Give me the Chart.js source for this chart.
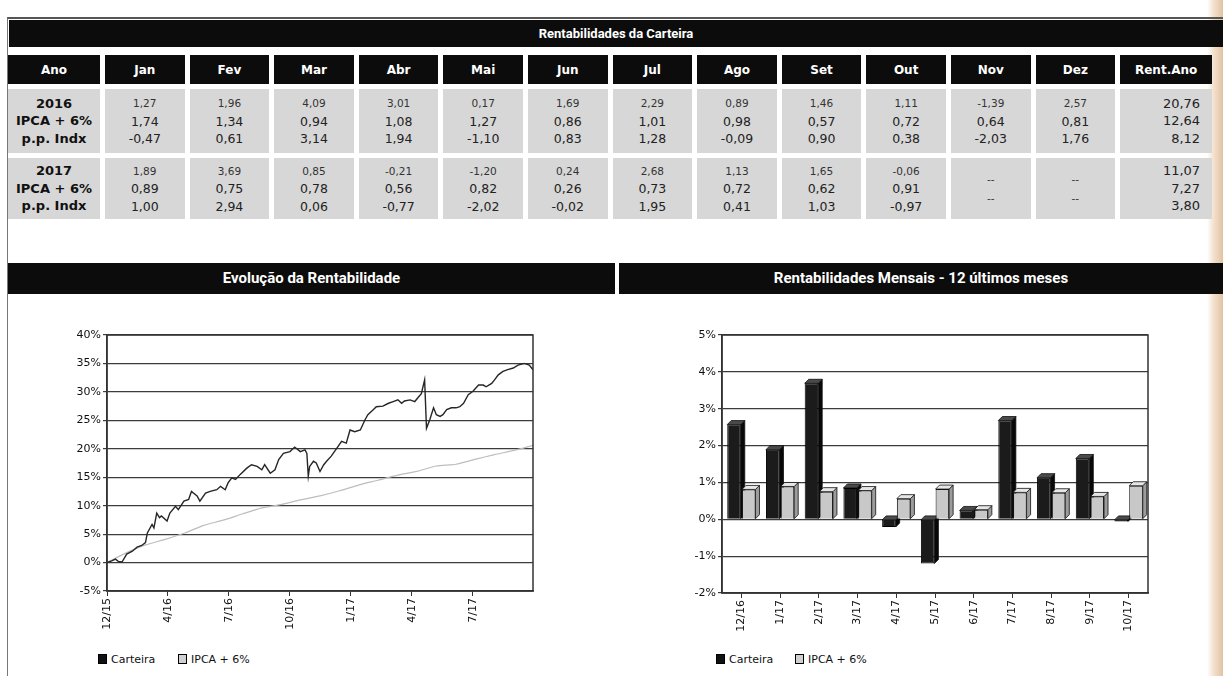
<!DOCTYPE html>
<html lang="pt-BR">
<head>
<meta charset="utf-8">
<title>Rentabilidades da Carteira</title>
<script src="https://cdn.jsdelivr.net/npm/chart.js@4.4.1/dist/chart.umd.min.js"></script>
<style>
html, body { margin: 0; padding: 0; }
body { width: 1223px; height: 676px; position: relative; overflow: hidden; background: #fff;
  font-family: "DejaVu Sans", Verdana, sans-serif; color: #1a1a1a; }
.edge { position: absolute; left: 1207px; top: 0; width: 16px; height: 676px;
  background: linear-gradient(90deg, #fff 0%, #f1dfcb 45%, #e2c3a3 100%); }
.frame { position: absolute; left: 7px; top: 17px; width: 1216px; height: 660px;
  border-left: 1px solid #777; border-top: 2px solid #555; }
.bar { position: absolute; background: #0c0c0c; color: #fff; font-family: Roboto, sans-serif;
  font-weight: bold; text-align: center; }
#tblTitle { left: 9px; top: 20px; width: 1214px; height: 27px; line-height: 27px; font-size: 13px; }
#secLeft { left: 8px; top: 263px; width: 607px; height: 31px; line-height: 31px; font-size: 15px; }
#secRight { left: 619px; top: 263px; width: 604px; height: 31px; line-height: 31px; font-size: 15px; }
table { position: absolute; left: 3px; top: 50px; border-collapse: separate; border-spacing: 5px;
  table-layout: fixed; }
th { background: #0c0c0c; color: #fff; font-size: 12px; font-weight: bold; height: 29px; padding: 0; }
td { background: #d7d7d7; padding: 0; text-align: center; vertical-align: middle; line-height: 17.5px;
  font-size: 12.5px; color: #222; }
td.ano { font-weight: bold; font-size: 13px; color: #111; }
td.tot { text-align: right; padding-right: 12px; font-size: 13px; }
td span.c { font-size: 10.5px; color: #333; }
.chart { position: absolute; }
.legend { position: absolute; top: 653px; font-size: 11px; color: #111; }
.legend span.box { display: inline-block; width: 7px; height: 8px; margin-right: 4px; vertical-align: -1px;
  border: 1px solid #000; }
.legend span.item { position: absolute; white-space: nowrap; }
</style>
</head>
<body>
<div class="edge"></div>
<div class="frame"></div>
<div class="bar" id="tblTitle">Rentabilidades da Carteira</div>
<table id="tabela"></table>
<div class="bar" id="secLeft">Evolução da Rentabilidade</div>
<div class="bar" id="secRight">Rentabilidades Mensais - 12 últimos meses</div>

<canvas class="chart" id="lineChart" width="485" height="320" style="left:60px;top:325px"></canvas>
<canvas class="chart" id="barChart" width="495" height="320" style="left:670px;top:325px"></canvas>

<div class="legend" style="left:0">
  <span class="item" style="left:98px"><span class="box" style="background:#111"></span>Carteira</span>
  <span class="item" style="left:178px"><span class="box" style="background:#d0d0d0"></span>IPCA + 6%</span>
  <span class="item" style="left:716px"><span class="box" style="background:#111"></span>Carteira</span>
  <span class="item" style="left:795px"><span class="box" style="background:#d0d0d0"></span>IPCA + 6%</span>
</div>

<script>
// ---- tabela ----
const meses = ['Jan', 'Fev', 'Mar', 'Abr', 'Mai', 'Jun', 'Jul', 'Ago', 'Set', 'Out', 'Nov', 'Dez'];
const rotulosLinha = ['IPCA + 6%', 'p.p. Indx'];

const carteira2016 = [1.27, 1.96, 4.09, 3.01, 0.17, 1.69, 2.29, 0.89, 1.46, 1.11, -1.39, 2.57];
const ipca2016 = [1.74, 1.34, 0.94, 1.08, 1.27, 0.86, 1.01, 0.98, 0.57, 0.72, 0.64, 0.81];
const pp2016 = [-0.47, 0.61, 3.14, 1.94, -1.10, 0.83, 1.28, -0.09, 0.90, 0.38, -2.03, 1.76];
const rentAno2016 = [20.76, 12.64, 8.12];

const carteira2017 = [1.89, 3.69, 0.85, -0.21, -1.20, 0.24, 2.68, 1.13, 1.65, -0.06, null, null];
const ipca2017 = [0.89, 0.75, 0.78, 0.56, 0.82, 0.26, 0.73, 0.72, 0.62, 0.91, null, null];
const pp2017 = [1.00, 2.94, 0.06, -0.77, -2.02, -0.02, 1.95, 0.41, 1.03, -0.97, null, null];
const rentAno2017 = [11.07, 7.27, 3.80];

// ---- evolucao da rentabilidade (x = pregoes desde 12/15, y = % acumulado) ----
const eixoDias = [0, 65, 130, 195, 260, 325, 390];
const eixoRotulos = ['12/15', '4/16', '7/16', '10/16', '1/17', '4/17', '7/17'];
const carteiraAcum = [
  [0, 0.0], [5, 0.3], [9, 0.6], [12, 0.2], [16, 0.1], [21, 1.5], [27, 2.0], [32, 2.7],
  [37, 3.0], [41, 3.5], [43, 5.2], [48, 6.7], [50, 6.1], [53, 8.7], [56, 7.9], [58, 8.2],
  [64, 7.3], [67, 8.7], [73, 9.9], [76, 9.3], [82, 10.8], [87, 11.1], [90, 12.5], [96, 11.7],
  [99, 10.8], [105, 12.2], [110, 12.5], [117, 12.8], [121, 13.4], [126, 12.8], [129, 14.0],
  [133, 14.9], [137, 14.6], [142, 15.5], [149, 16.6], [154, 17.2], [160, 16.9], [165, 16.3],
  [168, 17.2], [174, 15.7], [179, 16.3], [183, 18.1], [188, 19.2], [195, 19.5], [200, 20.3],
  [206, 19.5], [211, 19.8], [213, 19.2], [214.5, 15.2], [216, 16.9], [220, 17.8], [223, 17.5],
  [227, 16.0], [231, 17.2], [234, 17.8], [239, 18.7], [245, 20.1], [250, 21.3], [255, 21.0],
  [259, 23.3], [264, 23.0], [270, 23.3], [275, 25.1], [278, 26.0], [284, 26.9], [287, 27.4],
  [294, 27.5], [300, 28.0], [305, 28.3], [310, 28.6], [314, 28.0], [317, 28.4], [323, 28.6],
  [328, 28.3], [332, 29.1], [335, 29.7], [338.5, 32.1], [340.5, 23.6], [344, 25.1], [348, 27.2],
  [351, 26.0], [355, 25.7], [358, 26.0], [362, 26.9], [367, 27.2], [372, 27.2], [376, 27.4],
  [380, 28.0], [385, 29.5], [390, 30.1], [396, 31.2], [401, 31.2], [404, 30.9], [410, 31.5],
  [413, 32.1], [417, 33.0], [422, 33.6], [427, 33.9], [433, 34.2], [438, 34.7], [445, 35.0],
  [450, 34.7], [454, 33.9]
];
const ipcaAcum = [
  [0, 0.0], [21, 1.74], [41, 3.10], [62, 4.07], [83, 5.19], [103, 6.53], [124, 7.45],
  [144, 8.53], [165, 9.60], [186, 10.22], [206, 11.01], [227, 11.72], [248, 12.62],
  [268, 13.62], [289, 14.47], [310, 15.37], [330, 16.02], [351, 16.97], [372, 17.28],
  [392, 18.13], [413, 18.98], [434, 19.72], [454, 20.6]
];

// ---- rentabilidades mensais ----
const mesesBarras = ['12/16', '1/17', '2/17', '3/17', '4/17', '5/17', '6/17', '7/17', '8/17', '9/17', '10/17'];
const barrasCarteira = [2.57, 1.89, 3.69, 0.85, -0.21, -1.20, 0.24, 2.68, 1.13, 1.65, -0.06];
const barrasIpca = [0.81, 0.89, 0.75, 0.78, 0.56, 0.82, 0.26, 0.73, 0.72, 0.62, 0.91];

function fmt(v) {
  if (v === null) return '--';
  return v.toFixed(2).replace('.', ',');
}

function montaTabela() {
  const t = document.getElementById('tabela');
  let html = '<colgroup><col style="width:92px">';
  meses.forEach(() => { html += '<col style="width:79.6px">'; });
  html += '<col style="width:92px"></colgroup>';
  html += '<tr><th>Ano</th>' + meses.map(m => '<th>' + m + '</th>').join('') + '<th>Rent.Ano</th></tr>';
  const anos = [
    { ano: '2016', c: carteira2016, i: ipca2016, p: pp2016, tot: rentAno2016, h: 64 },
    { ano: '2017', c: carteira2017, i: ipca2017, p: pp2017, tot: rentAno2017, h: 61 }
  ];
  anos.forEach(a => {
    html += '<tr style="height:' + a.h + 'px"><td class="ano">' + a.ano + '<br>' + rotulosLinha.join('<br>') + '</td>';
    meses.forEach((m, k) => {
      if (a.c[k] === null) {
        html += '<td><span class="c">--</span><br><span class="c">--</span></td>';
      } else {
        html += '<td><span class="c">' + fmt(a.c[k]) + '</span><br>' + fmt(a.i[k]) + '<br>' + fmt(a.p[k]) + '</td>';
      }
    });
    html += '<td class="tot">' + a.tot.map(fmt).join('<br>') + '</td></tr>';
  });
  t.innerHTML = html;
}
montaTabela();

Chart.defaults.font.family = '"DejaVu Sans", Verdana, sans-serif';
Chart.defaults.font.size = 11;
Chart.defaults.color = '#111';

// moldura da area de plotagem
const moldura = {
  id: 'moldura',
  afterDraw(chart) {
    const a = chart.chartArea, ctx = chart.ctx;
    ctx.save();
    ctx.strokeStyle = '#333';
    ctx.lineWidth = 1.5;
    ctx.strokeRect(a.left, a.top, a.right - a.left, a.bottom - a.top);
    ctx.restore();
  }
};

// faces laterais e superiores das barras (efeito 3D)
const barras3d = {
  id: 'barras3d',
  beforeDatasetsDraw(chart) {
    const ctx = chart.ctx, d = 4;
    const faces = [
      { top: '#4a4a4a', side: '#080808' },
      { top: '#e6e6e6', side: '#9c9c9c' }
    ];
    chart.data.datasets.forEach((ds, i) => {
      chart.getDatasetMeta(i).data.forEach(el => {
        const p = el.getProps(['x', 'y', 'base', 'width'], true);
        const l = p.x - p.width / 2, r = p.x + p.width / 2;
        const t = Math.min(p.y, p.base), b = Math.max(p.y, p.base);
        ctx.save();
        ctx.strokeStyle = '#111';
        ctx.lineWidth = 0.8;
        ctx.fillStyle = faces[i].side;
        ctx.beginPath();
        ctx.moveTo(r, t); ctx.lineTo(r + d, t - d); ctx.lineTo(r + d, b - d); ctx.lineTo(r, b);
        ctx.closePath(); ctx.fill(); ctx.stroke();
        ctx.fillStyle = faces[i].top;
        ctx.beginPath();
        ctx.moveTo(l, t); ctx.lineTo(l + d, t - d); ctx.lineTo(r + d, t - d); ctx.lineTo(r, t);
        ctx.closePath(); ctx.fill(); ctx.stroke();
        ctx.restore();
      });
    });
  }
};

new Chart(document.getElementById('lineChart'), {
  type: 'line',
  data: {
    datasets: [
      {
        label: 'Carteira',
        data: carteiraAcum.map(([x, y]) => ({ x, y })),
        borderColor: '#262626',
        borderWidth: 1.4,
        pointRadius: 0,
        tension: 0
      },
      {
        label: 'IPCA + 6%',
        data: ipcaAcum.map(([x, y]) => ({ x, y })),
        borderColor: '#bdbdbd',
        borderWidth: 1.2,
        pointRadius: 0,
        tension: 0.2
      }
    ]
  },
  options: {
    responsive: false,
    animation: false,
    devicePixelRatio: 1,
    layout: { padding: { top: 10, right: 12, left: 0, bottom: 0 } },
    plugins: { legend: { display: false }, tooltip: { enabled: false } },
    scales: {
      x: {
        type: 'linear',
        min: 0,
        max: 454,
        afterBuildTicks: axis => { axis.ticks = eixoDias.map(v => ({ value: v })); },
        afterFit: axis => { axis.height = 54; },
        ticks: {
          autoSkip: false,
          minRotation: 90,
          maxRotation: 90,
          padding: 2,
          callback: (v, i) => eixoRotulos[i]
        },
        grid: { drawOnChartArea: false, tickLength: 5, color: '#333' },
        border: { color: '#333', width: 1.5 }
      },
      y: {
        min: -5,
        max: 40,
        afterFit: axis => { axis.width = 47; },
        ticks: { stepSize: 5, padding: 2, callback: v => v + '%' },
        grid: { color: '#3c3c3c', lineWidth: 1.2, tickLength: 4 },
        border: { color: '#333', width: 1.5 }
      }
    }
  },
  plugins: [moldura]
});

new Chart(document.getElementById('barChart'), {
  type: 'bar',
  data: {
    labels: mesesBarras,
    datasets: [
      {
        label: 'Carteira',
        data: barrasCarteira,
        backgroundColor: '#1b1b1b',
        borderColor: '#000',
        borderWidth: 1,
        barPercentage: 0.92,
        categoryPercentage: 0.76
      },
      {
        label: 'IPCA + 6%',
        data: barrasIpca,
        backgroundColor: '#c8c8c8',
        borderColor: '#111',
        borderWidth: 1,
        barPercentage: 0.92,
        categoryPercentage: 0.76
      }
    ]
  },
  options: {
    responsive: false,
    animation: false,
    devicePixelRatio: 1,
    layout: { padding: { top: 10, right: 17, left: 0, bottom: 0 } },
    plugins: { legend: { display: false }, tooltip: { enabled: false } },
    scales: {
      x: {
        afterFit: axis => { axis.height = 52; },
        ticks: { autoSkip: false, minRotation: 90, maxRotation: 90, padding: 2 },
        grid: { offset: false, drawOnChartArea: false, tickLength: 5, color: '#333' },
        border: { color: '#333', width: 1.5 }
      },
      y: {
        min: -2,
        max: 5,
        afterFit: axis => { axis.width = 52; },
        ticks: { stepSize: 1, padding: 2, callback: v => v + '%' },
        grid: { color: '#3c3c3c', lineWidth: 1.2, tickLength: 4 },
        border: { color: '#333', width: 1.5 }
      }
    }
  },
  plugins: [barras3d, moldura]
});
</script>
</body>
</html>
